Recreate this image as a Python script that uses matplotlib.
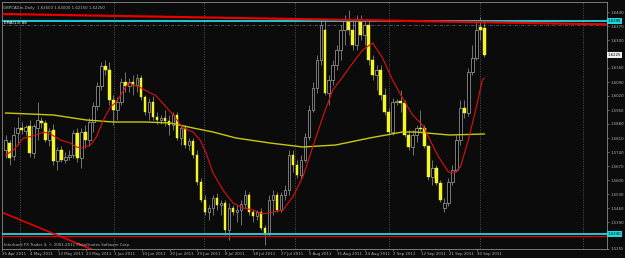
import matplotlib
matplotlib.use("Agg")
import matplotlib.pyplot as plt

# GBPCADm daily bars (oldest first)
opens = [1.5750, 1.5785, 1.5720, 1.5835, 1.5860, 1.5845, 1.5870, 1.5735, 1.5860, 1.5895,
         1.5885, 1.5800, 1.5850, 1.5695, 1.5750, 1.5700, 1.5715, 1.5725, 1.5835, 1.5710,
         1.5840, 1.5800, 1.5890, 1.5970, 1.6070, 1.6170, 1.6150, 1.6000, 1.5950, 1.5990,
         1.6090, 1.6070, 1.6090, 1.6075, 1.6110, 1.6015, 1.5940, 1.5990, 1.5915, 1.5900,
         1.5910, 1.5895, 1.5875, 1.5925, 1.5810, 1.5860, 1.5775, 1.5795, 1.5725, 1.5590,
         1.5500, 1.5440, 1.5460, 1.5510, 1.5475, 1.5485, 1.5350, 1.5460, 1.5440, 1.5450,
         1.5480, 1.5525, 1.5440, 1.5420, 1.5440, 1.5360, 1.5335, 1.5500, 1.5525, 1.5450,
         1.5525, 1.5550, 1.5725, 1.5675, 1.5625, 1.5700, 1.5815, 1.5950, 1.6060, 1.6200,
         1.6350, 1.6035, 1.6100, 1.6175, 1.6250, 1.6350, 1.6400, 1.6350, 1.6275, 1.6400,
         1.6325, 1.6375, 1.6200, 1.6125, 1.6150, 1.6025, 1.5940, 1.5840, 1.5990, 1.5995,
         1.5985, 1.5825, 1.5765, 1.5825, 1.5860, 1.5860, 1.5770, 1.5615, 1.5660, 1.5585,
         1.5460, 1.5485, 1.5590, 1.5650, 1.5800, 1.5960, 1.5935, 1.6140, 1.6210, 1.6365,
         1.6360]
highs = [1.5825, 1.5800, 1.5865, 1.5915, 1.5890, 1.5875, 1.5900, 1.5880, 1.5990, 1.5915,
         1.5900, 1.5860, 1.5880, 1.5765, 1.5770, 1.5740, 1.5750, 1.5850, 1.5860, 1.5860,
         1.5875, 1.5910, 1.5990, 1.6090, 1.6190, 1.6200, 1.6190, 1.6025, 1.6015, 1.6110,
         1.6140, 1.6110, 1.6125, 1.6130, 1.6125, 1.6025, 1.6010, 1.6020, 1.5940, 1.5925,
         1.5950, 1.5925, 1.5940, 1.5940, 1.5875, 1.5875, 1.5810, 1.5810, 1.5750, 1.5610,
         1.5525, 1.5475, 1.5525, 1.5535, 1.5500, 1.5500, 1.5485, 1.5475, 1.5475, 1.5500,
         1.5550, 1.5540, 1.5450, 1.5450, 1.5460, 1.5375, 1.5525, 1.5550, 1.5540, 1.5540,
         1.5575, 1.5750, 1.5750, 1.5700, 1.5725, 1.5835, 1.5975, 1.6090, 1.6225, 1.6400,
         1.6410, 1.6125, 1.6200, 1.6275, 1.6375, 1.6425, 1.6450, 1.6400, 1.6425, 1.6425,
         1.6400, 1.6400, 1.6225, 1.6175, 1.6175, 1.6060, 1.5960, 1.6010, 1.6005, 1.6050,
         1.6000, 1.5850, 1.5850, 1.5875, 1.5950, 1.5875, 1.5775, 1.5700, 1.5675, 1.5600,
         1.5510, 1.5610, 1.5675, 1.5825, 1.6000, 1.6000, 1.6160, 1.6275, 1.6400, 1.6415,
         1.6400]
lows = [1.5710, 1.5675, 1.5700, 1.5775, 1.5830, 1.5825, 1.5715, 1.5710, 1.5800, 1.5860,
        1.5790, 1.5770, 1.5675, 1.5650, 1.5690, 1.5685, 1.5700, 1.5710, 1.5690, 1.5660,
        1.5760, 1.5770, 1.5840, 1.5950, 1.6050, 1.6125, 1.5975, 1.5875, 1.5900, 1.5975,
        1.6040, 1.6040, 1.6025, 1.6040, 1.6000, 1.5925, 1.5900, 1.5900, 1.5880, 1.5880,
        1.5870, 1.5825, 1.5850, 1.5800, 1.5775, 1.5760, 1.5750, 1.5710, 1.5575, 1.5490,
        1.5425, 1.5400, 1.5425, 1.5450, 1.5425, 1.5325, 1.5300, 1.5425, 1.5390, 1.5375,
        1.5460, 1.5425, 1.5390, 1.5400, 1.5350, 1.5275, 1.5320, 1.5425, 1.5440, 1.5440,
        1.5500, 1.5525, 1.5640, 1.5610, 1.5610, 1.5690, 1.5800, 1.5940, 1.6035, 1.6175,
        1.6025, 1.5975, 1.6075, 1.6150, 1.6200, 1.6275, 1.6325, 1.6250, 1.6250, 1.6300,
        1.6275, 1.6175, 1.6100, 1.6050, 1.6000, 1.5925, 1.5825, 1.5825, 1.5975, 1.5940,
        1.5815, 1.5750, 1.5725, 1.5790, 1.5840, 1.5760, 1.5600, 1.5575, 1.5575, 1.5490,
        1.5440, 1.5470, 1.5575, 1.5640, 1.5775, 1.5910, 1.5920, 1.6125, 1.6200, 1.6300,
        1.6215]
closes = [1.5800, 1.5710, 1.5825, 1.5860, 1.5850, 1.5865, 1.5735, 1.5870, 1.5900, 1.5885,
          1.5800, 1.5845, 1.5695, 1.5750, 1.5700, 1.5715, 1.5725, 1.5835, 1.5710, 1.5840,
          1.5800, 1.5890, 1.5970, 1.6070, 1.6170, 1.6150, 1.6000, 1.5950, 1.5990, 1.6090,
          1.6070, 1.6090, 1.6075, 1.6110, 1.6015, 1.5940, 1.5990, 1.5915, 1.5900, 1.5910,
          1.5895, 1.5875, 1.5925, 1.5810, 1.5860, 1.5775, 1.5795, 1.5725, 1.5590, 1.5500,
          1.5440, 1.5460, 1.5510, 1.5475, 1.5485, 1.5350, 1.5460, 1.5440, 1.5450, 1.5480,
          1.5525, 1.5440, 1.5420, 1.5440, 1.5360, 1.5335, 1.5500, 1.5525, 1.5450, 1.5525,
          1.5550, 1.5725, 1.5675, 1.5625, 1.5700, 1.5815, 1.5950, 1.6060, 1.6200, 1.6375,
          1.6035, 1.6100, 1.6175, 1.6250, 1.6350, 1.6400, 1.6350, 1.6275, 1.6400, 1.6325,
          1.6375, 1.6200, 1.6125, 1.6150, 1.6025, 1.5940, 1.5840, 1.5990, 1.5995, 1.5985,
          1.5825, 1.5765, 1.5825, 1.5860, 1.5855, 1.5770, 1.5615, 1.5660, 1.5585, 1.5500,
          1.5485, 1.5590, 1.5650, 1.5800, 1.5960, 1.5935, 1.6140, 1.6210, 1.6350, 1.6350,
          1.6225]

date_labels = ["25 Apr 2011", "4 May 2011", "13 May 2011", "23 May 2011", "1 Jun 2011",
               "10 Jun 2011", "20 Jun 2011", "29 Jun 2011", "8 Jul 2011", "18 Jul 2011",
               "27 Jul 2011", "5 Aug 2011", "15 Aug 2011", "24 Aug 2011", "2 Sep 2011",
               "12 Sep 2011", "21 Sep 2011", "30 Sep 2011"]
date_label_bars = [0, 7, 14, 21, 28, 35, 42, 49, 56, 63, 70, 77, 84, 91, 98, 105, 112, 119]

# red moving average (sampled along the curve)
ma_fast_bars = [0, 2, 4.5, 7, 9.5, 11.25, 13.75, 16.25, 17.75, 19, 21.25, 22.75, 24.5, 26.25,
                27.75, 30.75, 34, 36.25, 37.5, 40.25, 42, 44.5, 47, 48.75, 50.25, 52, 54.5,
                57, 59.5, 62, 64.5, 67, 69.5, 72, 74.5, 77, 79.5, 82, 84.5, 87, 89.5, 92,
                94.5, 97, 99.5, 102, 104.5, 106, 108, 109.5, 111, 112.5, 114, 116, 118,
                119.5, 120]
ma_fast = [1.5725, 1.5750, 1.5810, 1.5820, 1.5840, 1.5830, 1.5800, 1.5785, 1.5765, 1.5760,
           1.5775, 1.5815, 1.5900, 1.5965, 1.5990, 1.6085, 1.6060, 1.6035, 1.6025, 1.5965,
           1.5925, 1.5860, 1.5840, 1.5800, 1.5735, 1.5635, 1.5550, 1.5485, 1.5460, 1.5450,
           1.5430, 1.5440, 1.5450, 1.5515, 1.5615, 1.5765, 1.5915, 1.6050, 1.6115, 1.6185,
           1.6250, 1.6285, 1.6210, 1.6100, 1.6010, 1.5925, 1.5875, 1.5815, 1.5735, 1.5685,
           1.5640, 1.5635, 1.5665, 1.5800, 1.5965, 1.6100, 1.6110]

# yellow slow moving average
ma_slow_bars = [0, 12, 20.25, 27, 35.25, 41.25, 47, 52, 57.75, 66.25, 74.5, 82.75, 91.25,
                99.5, 102.75, 111.25, 120]
ma_slow = [1.5935, 1.5925, 1.5900, 1.5890, 1.5890, 1.5885, 1.5860, 1.5840, 1.5810, 1.5785,
           1.5765, 1.5775, 1.5810, 1.5840, 1.5840, 1.5825, 1.5830]

# drawn objects
level_top = 1.6395
level_bottom = 1.5330
level_red = 1.5318
level_dash = 1.6375
trend_top_bars = [-0.5, 151.25]
trend_top = [1.6430, 1.6378]
trend_low_bars = [-0.5, 22]
trend_low = [1.5435, 1.5250]

price_ticks = [1.6440, 1.6370, 1.6300, 1.6160, 1.6090, 1.6020, 1.5950, 1.5880,
               1.5810, 1.5740, 1.5670, 1.5600, 1.5530, 1.5460, 1.5390, 1.5255]
grid_bars = [3.5, 27.25, 49.75, 72.5, 96, 119, 144.75]

bg = "#0b0b0b"
fg = "#b4b4b4"
fs = 2.8

fig = plt.figure(figsize=(6.25, 2.58), dpi=100, facecolor=bg)
ax = fig.add_axes([2 / 625, 9 / 258, 605 / 625, 247 / 258], facecolor=bg)
ax.set_xlim(-0.5, 150.75)
ax.set_ylim(1.5255, 1.6490)

for g in grid_bars:
    ax.axvline(g, color="#6a6a6a", lw=0.5, ls=(0, (1.5, 2)), zorder=1)

# candles
for i in range(len(opens)):
    o, h, l, c = opens[i], highs[i], lows[i], closes[i]
    ax.vlines(i, l, h, color="#9c9c9c", lw=0.5, zorder=3)
    if c >= o:
        ax.bar(i, max(c - o, 0.0002), bottom=o, width=0.62, color="black",
               edgecolor="#a8a8a8", linewidth=0.5, zorder=4)
    else:
        ax.bar(i, o - c, bottom=c, width=0.62, color="#f6f626",
               edgecolor="#f6f626", linewidth=0.3, zorder=4)

ax.plot(ma_slow_bars, ma_slow, color="#c8c814", lw=1.0, zorder=5)
ax.plot(ma_fast_bars, ma_fast, color="#e01010", lw=0.8, zorder=5)

ax.axhline(level_dash, color="#707070", lw=0.5, ls=(0, (4, 2, 1, 2)), zorder=2)
ax.axhline(level_top, color="#20d8e0", lw=1.3, zorder=6)
ax.axhline(level_bottom, color="#20d8e0", lw=1.3, zorder=6)
ax.axhline(level_red, color="#e00000", lw=0.9, zorder=6)
ax.plot(trend_top_bars, trend_top, color="#e80000", lw=1.6, zorder=6)
ax.plot(trend_low_bars, trend_low, color="#e80000", lw=1.2, zorder=6)

for s in ax.spines.values():
    s.set_color("#8a8a8a")
    s.set_linewidth(0.6)

ax.yaxis.tick_right()
ax.set_yticks(price_ticks)
ax.set_yticklabels(["%.4f" % p for p in price_ticks])
ax.set_xticks([b - 0.9 for b in date_label_bars])
ax.set_xticklabels(date_labels)
for t in ax.get_xticklabels():
    t.set_horizontalalignment("left")
ax.tick_params(axis="both", colors="#8a8a8a", labelcolor=fg, labelsize=fs,
               length=1.5, width=0.5, pad=1)

# price boxes on the right scale
for val, face in [(level_top, "#20d8e0"), (closes[-1], "#f0f0f0"), (level_bottom, "#20d8e0")]:
    ax.text(1.0015, val, "%.4f" % val, transform=ax.get_yaxis_transform(),
            fontsize=fs, color="black", va="center", ha="left",
            bbox=dict(boxstyle="square,pad=0.15", fc=face, ec="none"), zorder=10, clip_on=False)

ax.text(0.002, 0.985, "GBPCADm,Daily  %.5f %.5f %.5f %.5f" % (opens[-1], highs[-1], lows[-1], closes[-1]),
        transform=ax.transAxes, fontsize=fs, color=fg, va="top", ha="left")
ax.text(0.004, level_top, "EMA(13) 88", transform=ax.get_yaxis_transform(),
        fontsize=fs, color="white", va="top", ha="left", zorder=8)
ax.text(0.003, 0.008, "Interbank FX Trader 4, \u00a9 2001-2011 MetaQuotes Software Corp.",
        transform=ax.transAxes, fontsize=fs, color=fg, va="bottom", ha="left", zorder=8)

fig.savefig("out.png", dpi=100, facecolor=bg)
